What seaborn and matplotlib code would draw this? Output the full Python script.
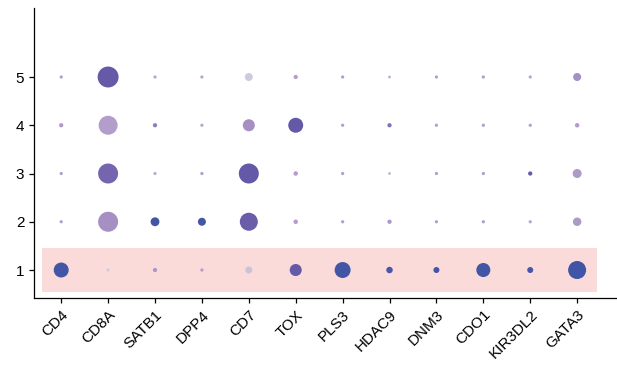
import numpy as np
import pandas as pd
import matplotlib
matplotlib.use("Agg")
import matplotlib.pyplot as plt
import seaborn as sns
from matplotlib.colors import LinearSegmentedColormap
from matplotlib.patches import Rectangle

genes = ["CD4", "CD8A", "SATB1", "DPP4", "CD7", "TOX", "PLS3", "HDAC9", "DNM3", "CDO1", "KIR3DL2", "GATA3"]
clusters = [1, 2, 3, 4, 5]

# percent expressing (size) per cluster row
pct_1 = [50, 1.5, 3.2, 1.5, 10, 32, 57, 8.7, 7.3, 44, 7.3, 73]
pct_2 = [1.5, 90, 17, 13.7, 73, 3.7, 1.5, 3.2, 1.5, 1.5, 1.5, 15.5]
pct_3 = [1.5, 90, 1.5, 1.5, 90, 3.7, 1.5, 0.9, 1.5, 1.5, 3.2, 17.5]
pct_4 = [3.2, 81, 3.2, 1.5, 32, 50, 1.5, 3.2, 1.5, 1.5, 1.5, 3.7]
pct_5 = [1.5, 99, 1.5, 1.5, 13.7, 3.2, 1.5, 0.9, 1.5, 1.5, 1.5, 13.7]

# mean expression (colour) per cluster row
expr_1 = [0.95, 0.05, 0.40, 0.35, 0.10, 0.70, 0.95, 0.90, 0.95, 0.95, 0.92, 0.97]
expr_2 = [0.35, 0.45, 0.95, 0.95, 0.68, 0.35, 0.35, 0.40, 0.35, 0.35, 0.30, 0.38]
expr_3 = [0.35, 0.65, 0.25, 0.35, 0.72, 0.35, 0.35, 0.20, 0.35, 0.35, 0.70, 0.38]
expr_4 = [0.38, 0.35, 0.55, 0.30, 0.45, 0.72, 0.35, 0.60, 0.35, 0.35, 0.35, 0.35]
expr_5 = [0.35, 0.70, 0.30, 0.30, 0.05, 0.35, 0.35, 0.25, 0.35, 0.35, 0.30, 0.45]

pct_rows = [pct_1, pct_2, pct_3, pct_4, pct_5]
expr_rows = [expr_1, expr_2, expr_3, expr_4, expr_5]

records = []
for c, pr, er in zip(clusters, pct_rows, expr_rows):
    for g, p, e in zip(genes, pr, er):
        records.append({"gene": g, "cluster": c, "pct": p, "expr": e})
df = pd.DataFrame(records)
df["x"] = df["gene"].map({g: i for i, g in enumerate(genes)})

cmap = LinearSegmentedColormap.from_list(
    "dot",
    [(0.0, "#d2d2de"), (0.35, "#b39dca"), (0.5, "#9f88c0"), (0.7, "#6659a8"), (1.0, "#3c55a6")],
)

sns.set_style("ticks")
plt.rcParams["font.family"] = ["Liberation Sans", "DejaVu Sans"]

fig = plt.figure(figsize=(6.17, 3.69), dpi=100)
ax = fig.add_axes([34 / 617, 1 - 298 / 369, 1 - 34 / 617, (298 - 8) / 369])

ax.add_patch(Rectangle((-0.41, 0.55), 11.83, 0.9, facecolor="#fadbd9", edgecolor="none", zorder=0))

sns.scatterplot(
    data=df, x="x", y="cluster", size="pct", hue="expr",
    sizes=(2, 230), size_norm=(0, 100), hue_norm=(0, 1), palette=cmap,
    edgecolor="none", linewidth=0, legend=False, ax=ax, zorder=3,
)

ax.set_xlim(-0.58, 11.85)
ax.set_ylim(0.42, 6.43)
ax.set_xticks(range(len(genes)))
ax.set_xticklabels(genes, rotation=45, ha="right", rotation_mode="anchor", fontsize=11)
ax.set_yticks(clusters)
ax.set_yticklabels([str(c) for c in clusters], fontsize=11)
ax.set_xlabel("")
ax.set_ylabel("")
for s in ["top", "right"]:
    ax.spines[s].set_visible(False)
for s in ["left", "bottom"]:
    ax.spines[s].set_color("black")
    ax.spines[s].set_linewidth(0.9)
ax.tick_params(colors="black", length=3.5, width=0.9, labelcolor="black")

fig.savefig("out.png", dpi=100)
